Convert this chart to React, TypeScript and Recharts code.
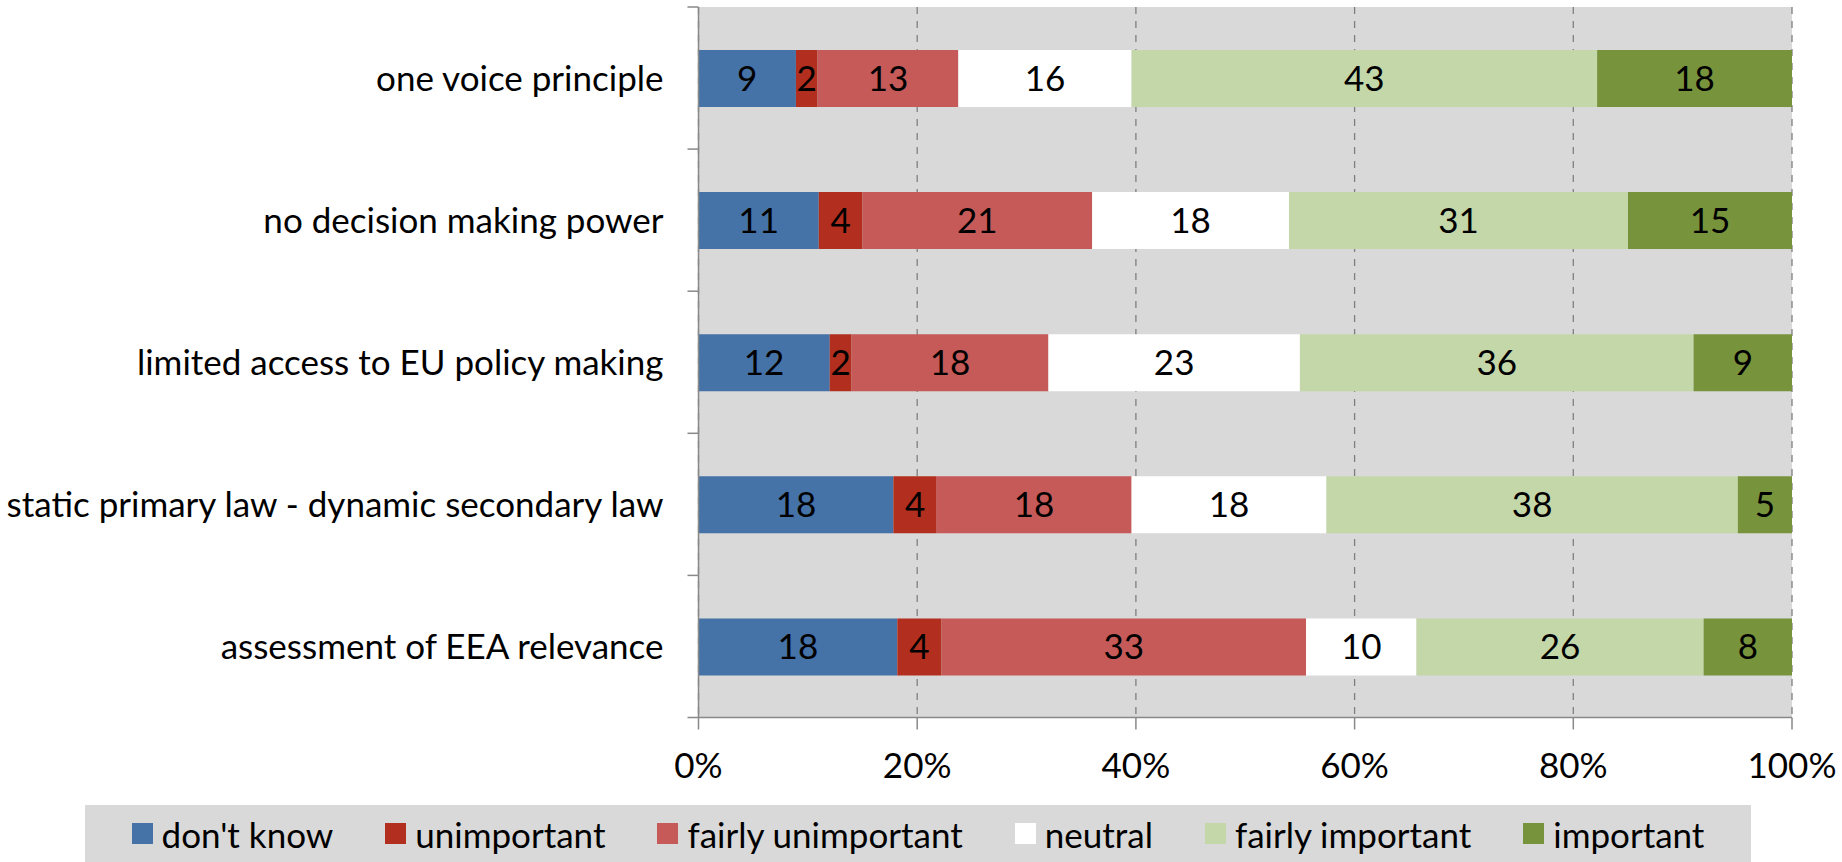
import React from 'react';
import { BarChart, Bar, XAxis, YAxis, CartesianGrid, LabelList } from 'recharts';

const categories = [
  'one voice principle',
  'no decision making power',
  'limited access to EU policy making',
  'static primary law - dynamic secondary law',
  'assessment of EEA relevance',
];
const seriesNames = ["don't know", 'unimportant', 'fairly unimportant', 'neutral', 'fairly important', 'important'];
const dontKnow = [9, 11, 12, 18, 18];
const unimportant = [2, 4, 2, 4, 4];
const fairlyUnimportant = [13, 21, 18, 18, 33];
const neutral = [16, 18, 23, 18, 10];
const fairlyImportant = [43, 31, 36, 38, 26];
const important = [18, 15, 9, 5, 8];
const xTicks = [0, 0.2, 0.4, 0.6, 0.8, 1];
const xTickLabels = ['0%', '20%', '40%', '60%', '80%', '100%'];
const colors = ['#4572A7', '#B22E1E', '#C55A58', '#FFFFFF', '#C4D7A9', '#77933C'];

const seriesValues = [dontKnow, unimportant, fairlyUnimportant, neutral, fairlyImportant, important];
const data = categories.map((name, i) => {
  const row: Record<string, any> = { name };
  seriesNames.forEach((s, j) => {
    row[s] = seriesValues[j][i];
  });
  return row;
});

const W = 1842;
const H = 862;
const FONT = 'Lato, "Noto Sans", sans-serif';
const FS = 35;
const MARGIN = { top: 7, right: 50, left: 0.5, bottom: 84.5 };
const Y_AXIS_W = 698;
const X_AXIS_H = 60;
const PLOT_H = H - MARGIN.top - MARGIN.bottom - X_AXIS_H;
const BAND = PLOT_H / categories.length;
const Y_TICK_MARGIN = 35;
const AXIS_COLOR = '#898989';

const YTick = (props: any) => {
  const { x, y, payload, index } = props;
  const axisX = x + Y_TICK_MARGIN;
  const half = BAND / 2;
  return (
    <g>
      <text x={x} y={y} dy="0.36em" textAnchor="end" fontSize={FS} fill="#000" fontFamily={FONT}>
        {payload.value}
      </text>
      <line x1={axisX - 11} x2={axisX} y1={y - half} y2={y - half} stroke={AXIS_COLOR} strokeWidth={1.5} />
      {index === categories.length - 1 && (
        <line x1={axisX - 11} x2={axisX} y1={y + half} y2={y + half} stroke={AXIS_COLOR} strokeWidth={1.5} />
      )}
    </g>
  );
};

export default function App() {
  return (
    <div style={{ position: 'absolute', left: 0, top: 0, width: W, height: H, background: '#fff', fontFamily: FONT }}>
      <BarChart
        width={W}
        height={H}
        data={data}
        layout="vertical"
        stackOffset="expand"
        margin={MARGIN}
        barSize={57}
      >
        <CartesianGrid
          horizontal={false}
          vertical={true}
          fill="#D9D9D9"
          stroke="#7F7F7F"
          strokeWidth={1.3}
          strokeDasharray="7 7"
        />
        <XAxis
          type="number"
          domain={[0, 1]}
          ticks={xTicks}
          height={X_AXIS_H}
          tickFormatter={(v: number) => xTickLabels[xTicks.indexOf(v)]}
          axisLine={{ stroke: AXIS_COLOR, strokeWidth: 1.5 }}
          tickLine={{ stroke: AXIS_COLOR, strokeWidth: 1.5 }}
          tickSize={12}
          tickMargin={24}
          tick={{ fontSize: FS, fill: '#000', fontFamily: FONT }}
          interval={0}
        />
        <YAxis
          type="category"
          dataKey="name"
          width={Y_AXIS_W}
          axisLine={{ stroke: AXIS_COLOR, strokeWidth: 1.5 }}
          tickLine={false}
          tickSize={0}
          tickMargin={Y_TICK_MARGIN}
          tick={<YTick />}
          interval={0}
        />
        {seriesNames.map((s, j) => (
          <Bar key={s} dataKey={s} stackId="a" fill={colors[j]} isAnimationActive={false}>
            <LabelList dataKey={s} position="center" fill="#000" fontSize={FS} fontFamily={FONT} />
          </Bar>
        ))}
      </BarChart>
      <div
        style={{
          position: 'absolute',
          left: 85,
          top: 805,
          width: 1666,
          height: 57,
          background: '#D9D9D9',
          display: 'flex',
          alignItems: 'center',
          justifyContent: 'center',
          gap: 52,
          fontSize: FS,
          fontFamily: FONT,
          color: '#000',
        }}
      >
        {seriesNames.map((s, j) => (
          <div key={s} style={{ display: 'flex', alignItems: 'center' }}>
            <span style={{ display: 'inline-block', width: 21, height: 21, background: colors[j], marginRight: 9 }} />
            <span>{s}</span>
          </div>
        ))}
      </div>
    </div>
  );
}
